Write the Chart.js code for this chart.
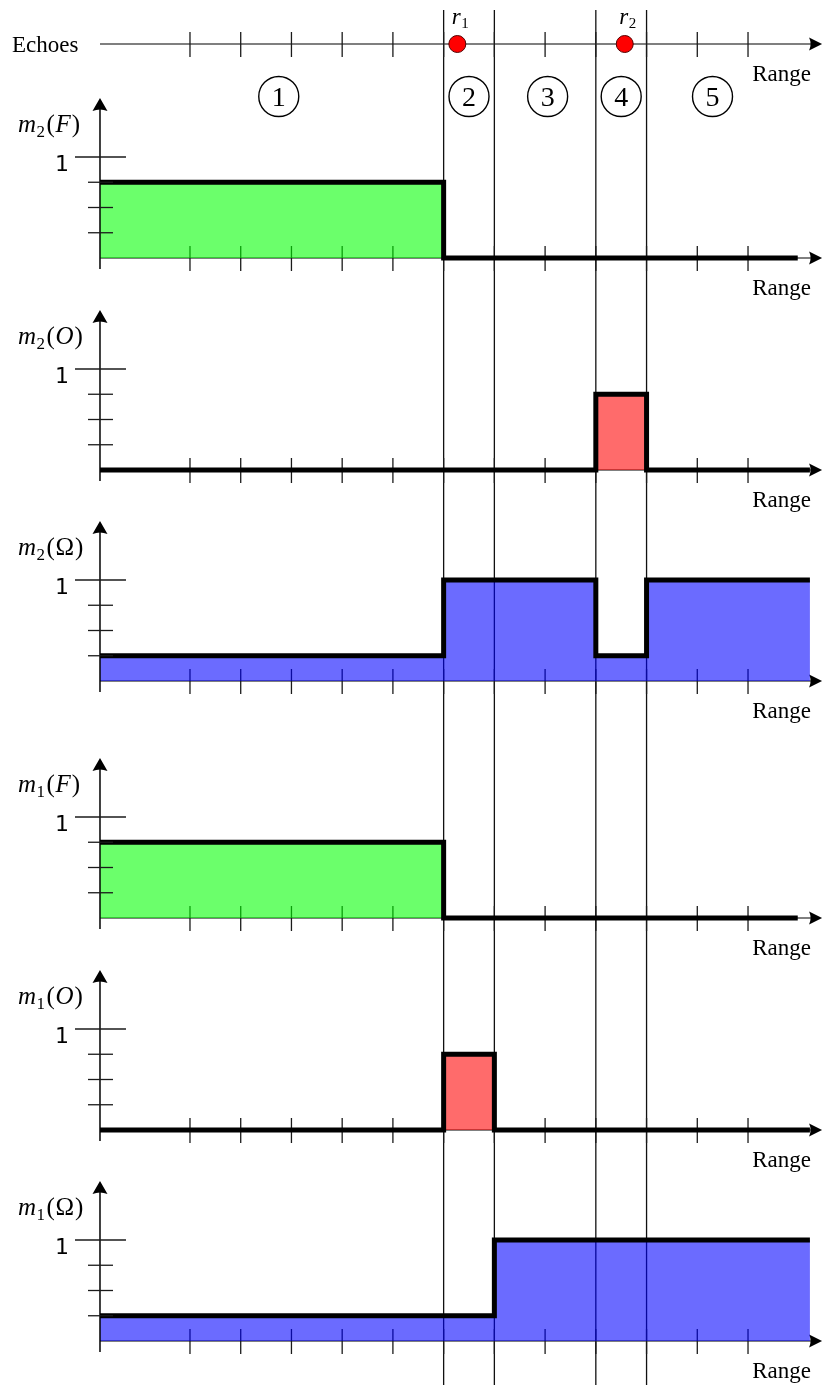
<!DOCTYPE html>
<html><head><meta charset="utf-8">
<script src="https://cdn.jsdelivr.net/npm/chart.js@4/dist/chart.umd.min.js"></script>
<style>
html,body{margin:0;padding:0;background:#fff;}
#wrap{position:relative;width:823px;height:1385px;overflow:hidden;background:#fff;}
#wrap canvas{position:absolute;left:0;top:0;}
</style></head><body><div id="wrap"></div>
<script>
// ---------------- data (x in range-tick units) ----------------
const xTicks = [1, 2, 3, 4, 5, 6, 7, 8, 9, 10, 11, 12];
const yTicks = [0.25, 0.5, 0.75, 1];
const regionBounds = [6, 7, 9, 10];
const regionLabels = ['1', '2', '3', '4', '5'];
const regionLabelX = [2.75, 6.5, 8.05, 9.5, 11.3];
const echoNames = ['1', '2'];
const echoX = [6.27, 9.57];

const m2F_x = [-0.774, 6, 12.98],            m2F_y = [0.75, 0, 0];
const m2O_x = [-0.774, 9, 10, 13.22],        m2O_y = [0, 0.75, 0, 0];
const m2W_x = [-0.774, 6, 9, 10, 13.22],     m2W_y = [0.25, 1, 0.25, 1, 1];
const m1F_x = [-0.774, 6, 12.98],            m1F_y = [0.75, 0, 0];
const m1O_x = [-0.774, 6, 7, 13.22],         m1O_y = [0, 0.75, 0, 0];
const m1W_x = [-0.774, 7, 13.22],            m1W_y = [0.25, 1, 1];

const panelMass = ['2', '2', '2', '1', '1', '1'];
const panelSet  = ['F', 'O', 'Ω', 'F', 'O', 'Ω'];
const panelX = [m2F_x, m2O_x, m2W_x, m1F_x, m1O_x, m1W_x];
const panelY = [m2F_y, m2O_y, m2W_y, m1F_y, m1O_y, m1W_y];

// ---------------- layout / style ----------------
const W = 823, H = 1385;
const X_MIN = -2.745, X_MAX = 13.478;
const UNIT = 101;                 // px per mass unit
const ECHO_BASE = 44;
const PANEL_BASE = [258, 470, 681, 918, 1130, 1341];
const X_ORIGIN = -0.774;
const X_ARROW = 13.46;
const Y_ARROW = 1.585;
const GREEN = 'rgba(0,255,0,0.58)', RED = 'rgba(255,0,0,0.58)', BLUE = 'rgba(0,0,255,0.58)';
const panelFill = [GREEN, RED, BLUE, GREEN, RED, BLUE];
const SERIF = '"Liberation Serif", "Times New Roman", serif';
const SANS = '"DejaVu Sans", sans-serif';

const wrap = document.getElementById('wrap');
function makeCanvas() {
  const c = document.createElement('canvas');
  c.width = W; c.height = H;
  c.style.width = W + 'px'; c.style.height = H + 'px';
  wrap.appendChild(c);
  return c;
}
function options(base) {
  return {
    responsive: false, animation: false, devicePixelRatio: 1, events: [],
    layout: { padding: 0, autoPadding: false },
    plugins: { legend: { display: false }, tooltip: { enabled: false }, title: { display: false } },
    scales: {
      x: { type: 'linear', display: false, min: X_MIN, max: X_MAX },
      y: { type: 'linear', display: false, min: base / UNIT - H / UNIT, max: base / UNIT }
    }
  };
}
function seg(ctx, x1, y1, x2, y2) { ctx.beginPath(); ctx.moveTo(x1, y1); ctx.lineTo(x2, y2); ctx.stroke(); }
function arrowRight(ctx, x, y) {
  ctx.beginPath(); ctx.moveTo(x, y); ctx.lineTo(x - 13, y - 6.5); ctx.quadraticCurveTo(x - 10, y, x - 13, y + 6.5); ctx.closePath(); ctx.fill();
}
function arrowUp(ctx, x, y) {
  ctx.beginPath(); ctx.moveTo(x, y); ctx.lineTo(x - 7.5, y + 13); ctx.quadraticCurveTo(x, y + 10, x + 7.5, y + 13); ctx.closePath(); ctx.fill();
}
function drawXAxis(chart, y0) {
  const ctx = chart.ctx, xs = chart.scales.x;
  const x0 = xs.getPixelForValue(X_ORIGIN), tip = xs.getPixelForValue(X_ARROW);
  ctx.save();
  ctx.strokeStyle = '#555'; ctx.lineWidth = 1.7;
  seg(ctx, x0, y0, tip - 9, y0);
  ctx.fillStyle = '#000'; arrowRight(ctx, tip, y0);
  ctx.strokeStyle = '#1a1a1a'; ctx.lineWidth = 1.3;
  xTicks.forEach(t => { const px = xs.getPixelForValue(t); seg(ctx, px, y0 - 12, px, y0 + 13); });
  ctx.restore();
}
function mathWidth(ctx, parts) {
  let w = 0;
  parts.forEach(p => { ctx.font = (p.it ? 'italic ' : '') + p.size + 'px ' + SERIF; w += ctx.measureText(p.t).width + (p.gap || 0); });
  return w;
}
function drawMath(ctx, parts, x, y) {
  let cx = x;
  parts.forEach(p => {
    ctx.font = (p.it ? 'italic ' : '') + p.size + 'px ' + SERIF;
    ctx.fillText(p.t, cx, y + (p.dy || 0));
    cx += ctx.measureText(p.t).width + (p.gap || 0);
  });
}
function rangeLabel(ctx, y0) {
  ctx.font = '23px ' + SERIF; ctx.textAlign = 'right'; ctx.fillStyle = '#000';
  ctx.fillText('Range', 811, y0 + 37);
  ctx.textAlign = 'left';
}

// ---------------- echoes chart (bottom layer, also the region lines) ----------------
const echoPlugin = {
  id: 'echo',
  beforeDatasetsDraw(chart) {
    const ctx = chart.ctx, xs = chart.scales.x, ys = chart.scales.y;
    const y0 = ys.getPixelForValue(0);
    ctx.save();
    ctx.strokeStyle = '#111'; ctx.lineWidth = 1.3;
    regionBounds.forEach(b => { const px = xs.getPixelForValue(b); seg(ctx, px, 10, px, H); });
    ctx.restore();
    drawXAxis(chart, y0);
  },
  afterDatasetsDraw(chart) {
    const ctx = chart.ctx, xs = chart.scales.x, ys = chart.scales.y;
    const y0 = ys.getPixelForValue(0);
    ctx.save();
    ctx.fillStyle = '#000'; ctx.textAlign = 'left'; ctx.textBaseline = 'alphabetic';
    ctx.font = '23px ' + SERIF;
    ctx.fillText('Echoes', 12, y0 + 8);
    rangeLabel(ctx, y0);
    echoX.forEach((e, i) => {
      const parts = [{ t: 'r', it: true, size: 23, gap: 0.5 }, { t: echoNames[i], size: 15, dy: 4 }];
      const w = mathWidth(ctx, parts);
      drawMath(ctx, parts, xs.getPixelForValue(e) + 3 - w / 2, y0 - 20);
    });
    const cy = y0 + 52.5;
    regionLabels.forEach((r, i) => {
      const cx = xs.getPixelForValue(regionLabelX[i]);
      ctx.strokeStyle = '#000'; ctx.lineWidth = 1.4;
      ctx.beginPath(); ctx.arc(cx, cy, 20, 0, Math.PI * 2); ctx.stroke();
      ctx.font = '28px ' + SERIF; ctx.textAlign = 'center';
      ctx.fillText(r, cx, cy + 9.5);
    });
    ctx.restore();
  }
};
new Chart(makeCanvas(), {
  type: 'scatter',
  data: { datasets: [{
    data: echoX.map(x => ({ x, y: 0 })),
    pointRadius: 8.5, pointBackgroundColor: '#f00', pointBorderColor: '#500', pointBorderWidth: 1, showLine: false
  }] },
  options: options(ECHO_BASE),
  plugins: [echoPlugin]
});

// ---------------- mass panels ----------------
function panelPlugin(i) {
  return {
    id: 'panel' + i,
    beforeDatasetsDraw(chart) {
      drawXAxis(chart, chart.scales.y.getPixelForValue(0));
    },
    afterDatasetsDraw(chart) {
      const ctx = chart.ctx, xs = chart.scales.x, ys = chart.scales.y;
      const y0 = ys.getPixelForValue(0), x0 = xs.getPixelForValue(X_ORIGIN);
      const ytip = ys.getPixelForValue(Y_ARROW);
      ctx.save();
      ctx.strokeStyle = '#000'; ctx.fillStyle = '#000'; ctx.lineWidth = 1.5;
      seg(ctx, x0, y0 + 11, x0, ytip + 9);
      arrowUp(ctx, x0, ytip);
      ctx.lineWidth = 1.3; ctx.strokeStyle = '#1a1a1a';
      yTicks.forEach(v => {
        const py = ys.getPixelForValue(v);
        if (v === 1) seg(ctx, x0 - 25, py, x0 + 26, py); else seg(ctx, x0 - 12, py, x0 + 13, py);
      });
      ctx.fillStyle = '#000'; ctx.textBaseline = 'alphabetic';
      ctx.font = '22px ' + SANS; ctx.textAlign = 'center';
      ctx.fillText('1', 62, ys.getPixelForValue(1) + 14);
      ctx.textAlign = 'left';
      drawMath(ctx, [
        { t: 'm', it: true, size: 25, gap: 0.5 },
        { t: panelMass[i], size: 17, dy: 5, gap: 1.5 },
        { t: '(', size: 25, gap: 0.5 },
        { t: panelSet[i], it: panelSet[i] !== 'Ω', size: 25, gap: 1 },
        { t: ')', size: 25 }
      ], 18, y0 - 126);
      rangeLabel(ctx, y0);
      ctx.restore();
    }
  };
}
PANEL_BASE.forEach((base, i) => {
  new Chart(makeCanvas(), {
    type: 'line',
    data: { datasets: [{
      data: panelX[i].map((x, k) => ({ x, y: panelY[i][k] })),
      stepped: 'before', tension: 0,
      borderColor: '#000', borderWidth: 5, borderJoinStyle: 'miter', borderCapStyle: 'butt',
      fill: 'origin', backgroundColor: panelFill[i], pointRadius: 0
    }] },
    options: options(base),
    plugins: [panelPlugin(i)]
  });
});
</script></body></html>
